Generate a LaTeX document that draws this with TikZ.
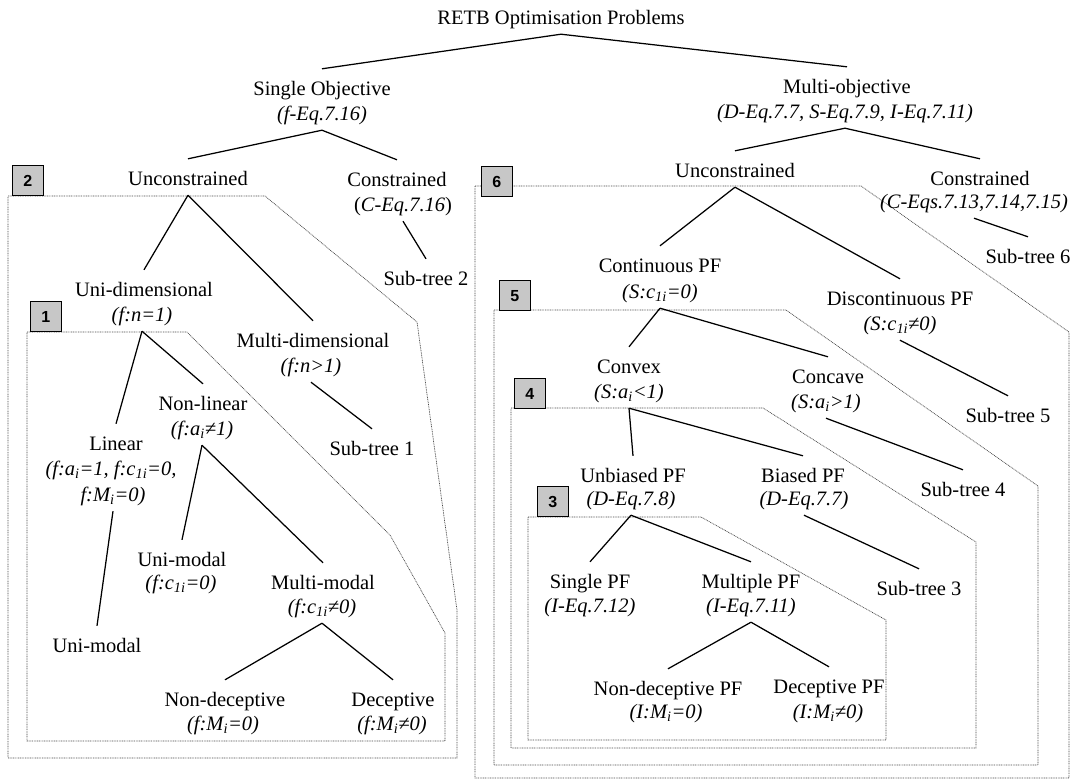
\documentclass[tikz,border=0pt]{standalone}
\usepackage{fontspec}
\setmainfont{Liberation Serif}
\newfontfamily\tagfont{Liberation Sans}
\newcommand{\sbs}[1]{\textsubscript{#1}}
\begin{document}
\begin{tikzpicture}[x=1pt,y=-1pt,
  txt/.style={inner sep=0pt, text height=26pt, text depth=10pt, anchor=base,
              font=\fontsize{20.5}{25}\selectfont},
  eqn/.style={txt, font=\fontsize{20.5}{25}\selectfont\itshape},
  branch/.style={line width=1.25pt, black},
  region/.style={draw=black!72, line width=0.7pt, dash pattern=on 0.9pt off 0.8pt},
  tag/.style={draw=black, line width=0.8pt, fill=black!22, minimum width=31pt,
              minimum height=30pt, inner sep=0pt, anchor=south west,
              font=\fontsize{16}{16}\tagfont\bfseries}
]
\useasboundingbox (0,0) rectangle (1082,780);

% nested sub-tree regions
\draw[region] (27,332) -- (187,332) -- (390,535) -- (445,633) -- (445,741) -- (27,741) -- cycle;
\draw[region] (8,196) -- (265,196) -- (417,322) -- (457,610) -- (457,758) -- (8,758) -- cycle;
\draw[region] (528,517) -- (701,517) -- (886,620) -- (886,740) -- (528,740) -- cycle;
\draw[region] (511,408) -- (763,408) -- (976,542) -- (976,748) -- (511,748) -- cycle;
\draw[region] (494,310) -- (786,310) -- (1038,486) -- (1038,765) -- (494,765) -- cycle;
\draw[region] (475,186) -- (861,186) -- (1069,332) -- (1069,778) -- (475,778) -- cycle;

% region tags
\node[tag] (t2) at (12,196) {2};
\node[tag] (t1) at (30,332) {1};
\node[tag] (t6) at (481,197) {6};
\node[tag] (t5) at (499,311) {5};
\node[tag] (t4) at (514,409) {4};
\node[tag] (t3) at (537,517) {3};

% root and first level
\node[txt] (title) at (561,24) {RETB Optimisation Problems};
\node[txt] (so) at (322,95) {Single Objective};
\node[eqn] (soeq) at (322,120) {(f-Eq.7.16)};
\node[txt] (mo) at (847,93) {Multi-objective};
\node[eqn] (moeq) at (845,118) {(D-Eq.7.7, S-Eq.7.9, I-Eq.7.11)};

% single objective branch
\node[txt] (uncL) at (188,185) {Unconstrained};
\node[txt] (conL) at (397,186) {Constrained};
\node[txt] (conLeq) at (403,211) {(\textit{C-Eq.7.16})};
\node[txt] (st2) at (426,285) {Sub-tree 2};
\node[txt] (unid) at (144,296) {Uni-dimensional};
\node[eqn] (unideq) at (142,321) {(f:n=1)};
\node[txt] (multid) at (313,347) {Multi-dimensional};
\node[eqn] (multideq) at (311,372) {(f:n>1)};
\node[txt] (st1) at (372,455) {Sub-tree 1};
\node[txt] (lin) at (116,450) {Linear};
\node[eqn] (lineqa) at (111,475) {(f:a\sbs{i}=1, f:c\sbs{1i}=0,};
\node[eqn] (lineqb) at (113,501) {f:M\sbs{i}=0)};
\node[txt] (uniB) at (97,652) {Uni-modal};
\node[txt] (nonlin) at (203,410) {Non-linear};
\node[eqn] (nonlineq) at (202,435) {(f:a\sbs{i}≠1)};
\node[txt] (unim) at (182,566) {Uni-modal};
\node[eqn] (unimeq) at (181,589) {(f:c\sbs{1i}=0)};
\node[txt] (multim) at (323,589) {Multi-modal};
\node[eqn] (multimeq) at (322,613) {(f:c\sbs{1i}≠0)};
\node[txt] (nondec) at (225,706) {Non-deceptive};
\node[eqn] (nondeceq) at (223,730) {(f:M\sbs{i}=0)};
\node[txt] (dec) at (393,706) {Deceptive};
\node[eqn] (deceq) at (392,730) {(f:M\sbs{i}≠0)};

% multi-objective branch
\node[txt] (uncR) at (735,177) {Unconstrained};
\node[txt] (conR) at (980,185) {Constrained};
\node[eqn] (conReq) at (974,208) {(C-Eqs.7.13,7.14,7.15)};
\node[txt] (st6) at (1028,263) {Sub-tree 6};
\node[txt] (cont) at (660,272) {Continuous PF};
\node[eqn] (conteq) at (660,298) {(S:c\sbs{1i}=0)};
\node[txt] (disc) at (900,305) {Discontinuous PF};
\node[eqn] (disceq) at (900,330) {(S:c\sbs{1i}≠0)};
\node[txt] (st5) at (1008,422) {Sub-tree 5};
\node[txt] (convex) at (629,373) {Convex};
\node[eqn] (convexeq) at (629,398) {(S:a\sbs{i}<1)};
\node[txt] (concave) at (828,383) {Concave};
\node[eqn] (concaveeq) at (826,408) {(S:a\sbs{i}>1)};
\node[txt] (st4) at (963,496) {Sub-tree 4};
\node[txt] (unb) at (633,482) {Unbiased PF};
\node[eqn] (unbeq) at (631,505) {(D-Eq.7.8)};
\node[txt] (bia) at (803,482) {Biased PF};
\node[eqn] (biaeq) at (804,505) {(D-Eq.7.7)};
\node[txt] (st3) at (919,595) {Sub-tree 3};
\node[txt] (spf) at (590,588) {Single PF};
\node[eqn] (spfeq) at (590,612) {(I-Eq.7.12)};
\node[txt] (mpf) at (751,588) {Multiple PF};
\node[eqn] (mpfeq) at (751,612) {(I-Eq.7.11)};
\node[txt] (ndpf) at (668,695) {Non-deceptive PF};
\node[eqn] (ndpfeq) at (666,718) {(I:M\sbs{i}=0)};
\node[txt] (dpf) at (829,693) {Deceptive PF};
\node[eqn] (dpfeq) at (828,718) {(I:M\sbs{i}≠0)};

% branches
\draw[branch] (title.south) -- (so.north);
\draw[branch] (title.south) -- (mo.north);
\draw[branch] (soeq.south) -- (uncL.north);
\draw[branch] (soeq.south) -- (conL.north);
\draw[branch] (conLeq.south) -- (st2.north);
\draw[branch] (uncL.south) -- (unid.north);
\draw[branch] (uncL.south) -- (multid.north);
\draw[branch] (multideq.south) -- (st1.north);
\draw[branch] (unideq.south) -- (lin.north);
\draw[branch] (unideq.south) -- (nonlin.north);
\draw[branch] (lineqb.south) -- (uniB.north);
\draw[branch] (nonlineq.south) -- (unim.north);
\draw[branch] (nonlineq.south) -- (multim.north);
\draw[branch] (multimeq.south) -- (nondec.north);
\draw[branch] (multimeq.south) -- (dec.north);
\draw[branch] (moeq.south) -- (uncR.north);
\draw[branch] (moeq.south) -- (conR.north);
\draw[branch] (conReq.south) -- (st6.north);
\draw[branch] (uncR.south) -- (cont.north);
\draw[branch] (uncR.south) -- (disc.north);
\draw[branch] (disceq.south) -- (st5.north);
\draw[branch] (conteq.south) -- (convex.north);
\draw[branch] (conteq.south) -- (concave.north);
\draw[branch] (concaveeq.south) -- (st4.north);
\draw[branch] (convexeq.south) -- (unb.north);
\draw[branch] (convexeq.south) -- (bia.north);
\draw[branch] (biaeq.south) -- (st3.north);
\draw[branch] (unbeq.south) -- (spf.north);
\draw[branch] (unbeq.south) -- (mpf.north);
\draw[branch] (mpfeq.south) -- (ndpf.north);
\draw[branch] (mpfeq.south) -- (dpf.north);
\end{tikzpicture}
\end{document}
